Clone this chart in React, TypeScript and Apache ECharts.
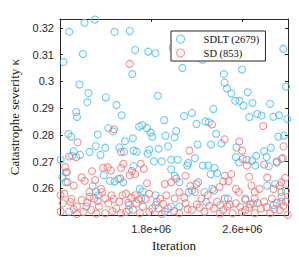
import React, { useEffect, useRef } from "react";
import * as echarts from "echarts";

const seriesNames = ["SDLT (2679)", "SD (853)"];
const xTickValues = [1800000, 2600000];
const xTickLabels = ["1.8e+06", "2.6e+06"];
const yTickValues = [0.26, 0.27, 0.28, 0.29, 0.3, 0.31, 0.32];
const yTickLabels = ["0.26", "0.27", "0.28", "0.29", "0.3", "0.31", "0.32"];

// SDLT points: [iteration, kappa]
const sdltPoints: [number, number][] = [
  [1080000, 0.3185], [1215000, 0.3219], [1306000, 0.3231], [1479000, 0.3185], [1612000, 0.3188],
  [1659000, 0.3117], [1774000, 0.3111], [1837000, 0.3105], [1989000, 0.3126], [1201000, 0.3102],
  [1031000, 0.3072], [1634000, 0.3027], [1171000, 0.2988], [2212000, 0.309], [2248000, 0.3081],
  [2074000, 0.305], [2438000, 0.3027], [2597000, 0.3044], [2444000, 0.2995], [2959000, 0.3122],
  [2983000, 0.298], [2465000, 0.2973], [2502000, 0.2955], [2537000, 0.2927], [2573000, 0.2927],
  [2609000, 0.2909], [2647000, 0.2959], [2688000, 0.2919], [2843000, 0.2916], [2345000, 0.2897],
  [2088000, 0.287], [2157000, 0.2882], [2198000, 0.2841], [2275000, 0.285], [2306000, 0.2847],
  [2661000, 0.2867], [2730000, 0.2878], [2768000, 0.2872], [2872000, 0.2868], [2921000, 0.2873],
  [2994000, 0.2859], [1859000, 0.2946], [1250000, 0.2956], [1240000, 0.2922], [1402000, 0.294],
  [1496000, 0.2912], [1540000, 0.2873], [1143000, 0.2885], [1149000, 0.2867], [1074000, 0.2803],
  [1099000, 0.2793], [1331000, 0.2801], [1424000, 0.2825], [1465000, 0.2813], [1694000, 0.2831],
  [1721000, 0.2836], [1763000, 0.2825], [1796000, 0.2809], [1810000, 0.2793], [1915000, 0.2855],
  [1926000, 0.2797], [1570000, 0.2776], [1639000, 0.2787], [1314000, 0.2758], [1397000, 0.2752],
  [1521000, 0.2753], [1783000, 0.2744], [1865000, 0.2748], [1948000, 0.2757], [1645000, 0.2741],
  [1259000, 0.2736], [1121000, 0.2739], [2369000, 0.2804], [2019000, 0.2814], [2006000, 0.2791],
  [2207000, 0.2764], [2325000, 0.2764], [2416000, 0.2768], [2548000, 0.2753], [2851000, 0.2752],
  [2915000, 0.2793], [2964000, 0.2797], [2791000, 0.2739], [1006000, 0.2707], [1107000, 0.2722],
  [1176000, 0.2725], [1355000, 0.2725], [1562000, 0.2737], [1672000, 0.2737], [1769000, 0.2729],
  [1824000, 0.2701], [1893000, 0.2701], [1975000, 0.2707], [1975000, 0.2671], [1645000, 0.2683],
  [1052000, 0.2659], [1383000, 0.2649], [1438000, 0.2628], [1479000, 0.2626], [1512000, 0.2635],
  [1556000, 0.2623], [1287000, 0.2608], [1314000, 0.2588], [1336000, 0.2574], [1700000, 0.2598],
  [1727000, 0.2588], [1837000, 0.2574], [1713000, 0.2562], [1603000, 0.2537], [1603000, 0.2519],
  [1231000, 0.2532], [1080000, 0.2513], [1837000, 0.2537], [1920000, 0.2513], [1975000, 0.2532],
  [2033000, 0.2707], [2124000, 0.2695], [2116000, 0.2685], [2184000, 0.2713], [2254000, 0.2685],
  [2322000, 0.2653], [2378000, 0.2656], [2570000, 0.2697], [2639000, 0.2707], [2721000, 0.2722],
  [2713000, 0.2685], [2812000, 0.2717], [2832000, 0.2683], [2901000, 0.2697], [2942000, 0.271],
  [2006000, 0.2647], [2047000, 0.2623], [2212000, 0.2623], [2157000, 0.2592], [2130000, 0.2586],
  [2267000, 0.2586], [2336000, 0.2598], [2818000, 0.261], [2887000, 0.2616], [2942000, 0.2586],
  [2942000, 0.255], [2473000, 0.2562], [2626000, 0.2556], [2694000, 0.2544], [2047000, 0.2532],
  [2281000, 0.255], [2405000, 0.2537], [2873000, 0.2537], [2300000, 0.2685], [2355000, 0.2676],
  [2543000, 0.2716], [2686000, 0.2704], [1021000, 0.2641], [1050000, 0.2624],
];

// SD points: [iteration, kappa]
const sdPoints: [number, number][] = [
  [1612000, 0.3065], [2333000, 0.2839], [2783000, 0.2833], [1474000, 0.2821], [1155000, 0.2772],
  [1535000, 0.2736], [2573000, 0.2775], [2961000, 0.2757], [2135000, 0.2741], [2597000, 0.2741],
  [1080000, 0.2719], [1378000, 0.2677], [1535000, 0.2677], [1631000, 0.2665], [1659000, 0.2653],
  [1190000, 0.2641], [1217000, 0.2628], [1066000, 0.2623], [1121000, 0.261], [1039000, 0.258],
  [1004000, 0.2574], [1259000, 0.2586], [1259000, 0.2568], [1369000, 0.2586], [1300000, 0.2562],
  [1397000, 0.2562], [1452000, 0.2574], [1548000, 0.2574], [1578000, 0.258], [1659000, 0.2574],
  [1783000, 0.258], [1920000, 0.2616], [1975000, 0.2623], [1934000, 0.2574], [1878000, 0.2562],
  [1025000, 0.2544], [1093000, 0.255], [1149000, 0.2532], [1273000, 0.2519], [1341000, 0.2532],
  [1424000, 0.2544], [1493000, 0.2525], [1521000, 0.255], [1672000, 0.2544], [1727000, 0.2532],
  [1783000, 0.2513], [1810000, 0.2525], [1865000, 0.2525], [1948000, 0.2525], [1006000, 0.2513],
  [1149000, 0.2504], [1397000, 0.2507], [1535000, 0.2507], [1700000, 0.2507], [1893000, 0.2504],
  [2603000, 0.271], [2639000, 0.2685], [2791000, 0.2689], [2818000, 0.2641], [2901000, 0.27],
  [2956000, 0.2713], [2102000, 0.2647], [2446000, 0.2647], [2502000, 0.2653], [2432000, 0.2626],
  [2019000, 0.2637], [2198000, 0.2616], [2184000, 0.2586], [2350000, 0.2592], [2047000, 0.2586],
  [2543000, 0.2598], [2570000, 0.2586], [2680000, 0.261], [2749000, 0.2598], [2708000, 0.2586],
  [2873000, 0.2598], [2928000, 0.261], [2942000, 0.2623], [2983000, 0.2592], [2006000, 0.2562],
  [2102000, 0.2544], [2240000, 0.2562], [2295000, 0.2574], [2378000, 0.255], [2446000, 0.2562],
  [2543000, 0.2544], [2626000, 0.2562], [2708000, 0.2562], [2791000, 0.255], [2859000, 0.2562],
  [2942000, 0.2568], [2983000, 0.255], [2047000, 0.2507], [2157000, 0.2519], [2267000, 0.2513],
  [2350000, 0.2525], [2432000, 0.2519], [2515000, 0.2507], [2626000, 0.2519], [2708000, 0.2507],
  [2763000, 0.2525], [2845000, 0.2507], [2928000, 0.2519], [2997000, 0.2501], [2444000, 0.2783],
  [2975000, 0.2639], [2659000, 0.2643], [2479000, 0.2627], [2143000, 0.2609], [1047000, 0.2679],
  [1060000, 0.2661], [1143000, 0.2716], [1419000, 0.2679], [1446000, 0.2667], [1556000, 0.2692],
  [1612000, 0.2649], [1708000, 0.2692], [1736000, 0.2673], [1763000, 0.2619], [1529000, 0.2637],
  [1308000, 0.2631], [1281000, 0.2664], [1100000, 0.256], [1190000, 0.2556], [1240000, 0.2547],
  [1330000, 0.2553], [1470000, 0.256], [1600000, 0.2547], [1640000, 0.252], [1750000, 0.256],
  [1850000, 0.255], [2090000, 0.2565], [2200000, 0.254], [2310000, 0.2535], [2490000, 0.254],
  [2580000, 0.253], [2670000, 0.254], [2810000, 0.253], [2900000, 0.2545],
  [1120000, 0.2522], [1205000, 0.2512], [1318000, 0.2505], [1460000, 0.2515], [1580000, 0.2512],
  [1625000, 0.2565], [1690000, 0.2558], [1905000, 0.2542], [2000000, 0.2515], [2120000, 0.2522],
  [2225000, 0.2528], [2402000, 0.2505], [2468000, 0.2532], [2595000, 0.2512], [2660000, 0.2528],
  [2735000, 0.2545], [2880000, 0.2522], [2960000, 0.2535], [1360000, 0.2598], [2400000, 0.2605],
];

const blue = "#45BBF0";
const red = "#F27474";
const axisColor = "#262626";
const serif = "'Liberation Serif', 'Times New Roman', serif";
const sans = "'Liberation Sans', Arial, Helvetica, sans-serif";

export default function App() {
  const ref = useRef<HTMLDivElement>(null);
  useEffect(() => {
    if (!ref.current) return;
    const chart = echarts.init(ref.current, undefined, { renderer: "svg" });
    const axisLine = { show: true, onZero: false, lineStyle: { color: axisColor, width: 1 } };
    const tickBase = { show: true, inside: true, length: 3, lineStyle: { color: axisColor, width: 1 } };
    chart.setOption({
      animation: false,
      backgroundColor: "#fff",
      grid: { left: 46, right: 11, top: 19, bottom: 36, containLabel: false },
      legend: {
        orient: "vertical",
        left: 171,
        top: 31,
        padding: [2, 6, 2, 5],
        itemWidth: 36,
        itemHeight: 8,
        itemGap: 2,
        borderColor: axisColor,
        borderWidth: 1,
        backgroundColor: "#fff",
        textStyle: { fontFamily: serif, fontSize: 10.5, color: "#111", lineHeight: 12 },
        data: [
          { name: seriesNames[0], icon: "circle", itemStyle: { color: "rgba(0,0,0,0)", borderColor: blue, borderWidth: 1.1 } },
          { name: seriesNames[1], icon: "circle", itemStyle: { color: "rgba(0,0,0,0)", borderColor: red, borderWidth: 1.1 } },
        ],
      },
      xAxis: [
        {
          type: "value",
          position: "bottom",
          min: 1000000,
          max: 3000000,
          name: "Iteration",
          nameLocation: "middle",
          nameGap: 22,
          nameTextStyle: { fontFamily: serif, fontSize: 13, color: "#111" },
          axisLine,
          axisTick: { ...tickBase, customValues: xTickValues },
          axisLabel: {
            show: true,
            customValues: xTickValues,
            margin: 8,
            fontFamily: sans,
            fontSize: 11,
            color: "#262626",
            formatter: (v: number) => {
              const i = xTickValues.indexOf(v);
              return i >= 0 ? xTickLabels[i] : "";
            },
          },
          splitLine: { show: false },
        },
        {
          type: "value",
          position: "top",
          min: 1000000,
          max: 3000000,
          axisLine,
          axisTick: { ...tickBase, customValues: xTickValues },
          axisLabel: { show: false },
          splitLine: { show: false },
        },
      ],
      yAxis: [
        {
          type: "value",
          position: "left",
          min: 0.25,
          max: 0.3233,
          name: "Catastrophe severity κ",
          nameLocation: "middle",
          nameGap: 39,
          nameTextStyle: { fontFamily: serif, fontSize: 13, color: "#111" },
          axisLine,
          axisTick: { ...tickBase, customValues: yTickValues },
          axisLabel: {
            show: true,
            customValues: yTickValues,
            margin: 6,
            fontFamily: sans,
            fontSize: 11,
            color: "#262626",
            formatter: (v: number) => {
              let best = 0;
              for (let i = 0; i < yTickValues.length; i++) {
                if (Math.abs(yTickValues[i] - v) < Math.abs(yTickValues[best] - v)) best = i;
              }
              return yTickLabels[best];
            },
          },
          splitLine: { show: false },
        },
        {
          type: "value",
          position: "right",
          min: 0.25,
          max: 0.3233,
          axisLine,
          axisTick: { ...tickBase, customValues: yTickValues },
          axisLabel: { show: false },
          splitLine: { show: false },
        },
      ],
      series: [
        {
          name: seriesNames[0],
          type: "scatter",
          data: sdltPoints,
          symbol: "circle",
          symbolSize: 7,
          itemStyle: { color: "rgba(0,0,0,0)", borderColor: blue, borderWidth: 1.1 },
          emphasis: { disabled: true },
        },
        {
          name: seriesNames[1],
          type: "scatter",
          data: sdPoints,
          symbol: "circle",
          symbolSize: 7,
          itemStyle: { color: "rgba(0,0,0,0)", borderColor: red, borderWidth: 1.1 },
          emphasis: { disabled: true },
        },
      ],
    });
    return () => chart.dispose();
  }, []);
  return <div ref={ref} style={{ width: 299, height: 257, position: "absolute", left: 0, top: 0 }} />;
}
